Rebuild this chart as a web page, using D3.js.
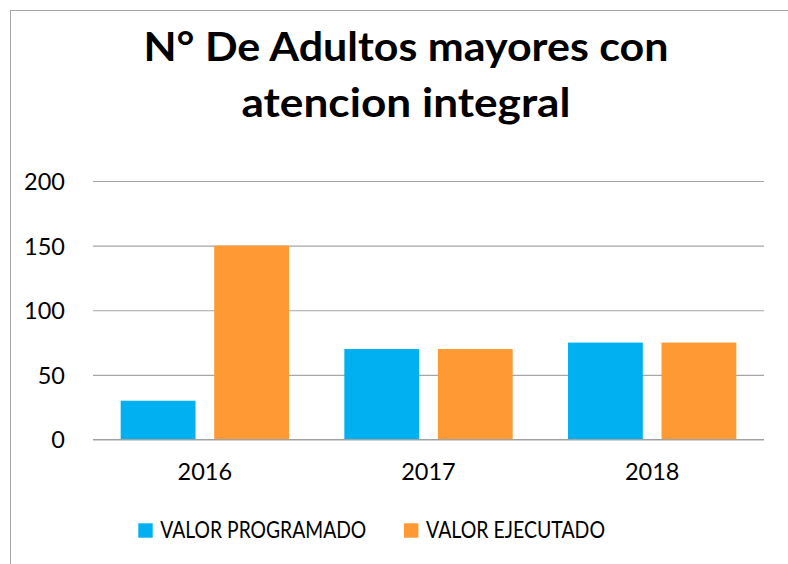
<!DOCTYPE html>
<html>
<head>
<meta charset="utf-8">
<script src="https://cdn.jsdelivr.net/npm/d3@7"></script>
<style>
  html, body { margin: 0; padding: 0; background: #ffffff; }
  svg { display: block; }
</style>
</head>
<body>
<svg id="chart" width="788" height="564"></svg>
<script>
// Chart data
const titleLines = ["N° De Adultos mayores con", "atencion integral"];
const years = ["2016", "2017", "2018"];
const seriesNames = ["VALOR PROGRAMADO", "VALOR EJECUTADO"];
const programado = [30, 70, 75];
const ejecutado = [150, 70, 75];
const yTicks = [0, 50, 100, 150, 200];
const seriesColors = ["#00B0F0", "#FF9933"];

const rows = years.map((y, i) => ({ year: y, values: [programado[i], ejecutado[i]] }));

const svg = d3.select("#chart");
const W = 788, H = 564;
const margin = { left: 93, right: 24, top: 181, bottom: 124.5 };
const fontFamily = "Lato, 'Open Sans', 'DejaVu Sans', sans-serif";

// Outer frame of the chart area
svg.append("rect")
  .attr("x", 10.5).attr("y", 10.5)
  .attr("width", 820).attr("height", 620)
  .attr("fill", "#ffffff")
  .attr("stroke", "#a6a6a6")
  .attr("stroke-width", 1);

// Title
const titleWidths = [525, 329];
svg.append("g")
  .selectAll("text")
  .data(titleLines)
  .join("text")
  .attr("x", 406)
  .attr("y", (d, i) => 60.7 + i * 56)
  .attr("text-anchor", "middle")
  .attr("font-family", fontFamily)
  .attr("font-weight", "bold")
  .attr("font-size", 39.5)
  .attr("fill", "#000000")
  .attr("textLength", (d, i) => titleWidths[i])
  .attr("lengthAdjust", "spacingAndGlyphs")
  .text(d => d);

// Scales
const x = d3.scaleBand()
  .domain(years)
  .range([margin.left, W - margin.right])
  .padding(0);

const xs = d3.scaleBand()
  .domain(d3.range(seriesNames.length))
  .range([0, x.bandwidth()])
  .paddingInner(0.2)
  .paddingOuter(0.296);

const y = d3.scaleLinear()
  .domain([0, 200])
  .range([H - margin.bottom, margin.top]);

// Gridlines + y tick labels
const yAxis = d3.axisLeft(y)
  .tickValues(yTicks)
  .tickSize(-(W - margin.right - margin.left))
  .tickPadding(28)
  .tickFormat(d3.format("d"));

const gy = svg.append("g")
  .attr("transform", `translate(${margin.left},0)`)
  .call(yAxis);
gy.select(".domain").remove();
gy.selectAll(".tick line")
  .attr("stroke", "#a6a6a6")
  .attr("stroke-width", 1.2);
gy.selectAll(".tick text")
  .attr("font-family", fontFamily)
  .attr("font-size", 23.5)
  .attr("fill", "#000000")
  .attr("dy", "0.36em");

// Bars
const groups = svg.append("g")
  .selectAll("g")
  .data(rows)
  .join("g")
  .attr("transform", d => `translate(${x(d.year)},0)`);

groups.selectAll("rect")
  .data(d => d.values.map((v, i) => ({ i, v })))
  .join("rect")
  .attr("x", d => xs(d.i))
  .attr("y", d => y(d.v))
  .attr("width", xs.bandwidth())
  .attr("height", d => y(0) - y(d.v))
  .attr("fill", d => seriesColors[d.i]);

// Baseline at zero drawn over the bars
svg.append("line")
  .attr("x1", margin.left).attr("x2", W - margin.right)
  .attr("y1", y(0)).attr("y2", y(0))
  .attr("stroke", "#a0a0a0")
  .attr("stroke-width", 1.2);

// X axis labels
const xAxis = d3.axisBottom(x).tickSize(0).tickPadding(0);
const gx = svg.append("g")
  .attr("transform", `translate(0,${y(0)})`)
  .call(xAxis);
gx.select(".domain").remove();
gx.selectAll(".tick text")
  .attr("font-family", fontFamily)
  .attr("font-size", 23.5)
  .attr("fill", "#000000")
  .attr("y", 40.5)
  .attr("dy", 0);

// Legend
const legendX = [138.3, 404];
const legendTextW = [206, 179];
const legend = svg.append("g")
  .selectAll("g")
  .data(seriesNames)
  .join("g")
  .attr("transform", (d, i) => `translate(${legendX[i]},523.3)`);

legend.append("rect")
  .attr("width", 14.4).attr("height", 14.4)
  .attr("fill", (d, i) => seriesColors[i]);

legend.append("text")
  .attr("x", 22)
  .attr("y", 14.4)
  .attr("font-family", fontFamily)
  .attr("font-size", 22.3)
  .attr("fill", "#000000")
  .attr("textLength", (d, i) => legendTextW[i])
  .attr("lengthAdjust", "spacingAndGlyphs")
  .text(d => d);
</script>
</body>
</html>
